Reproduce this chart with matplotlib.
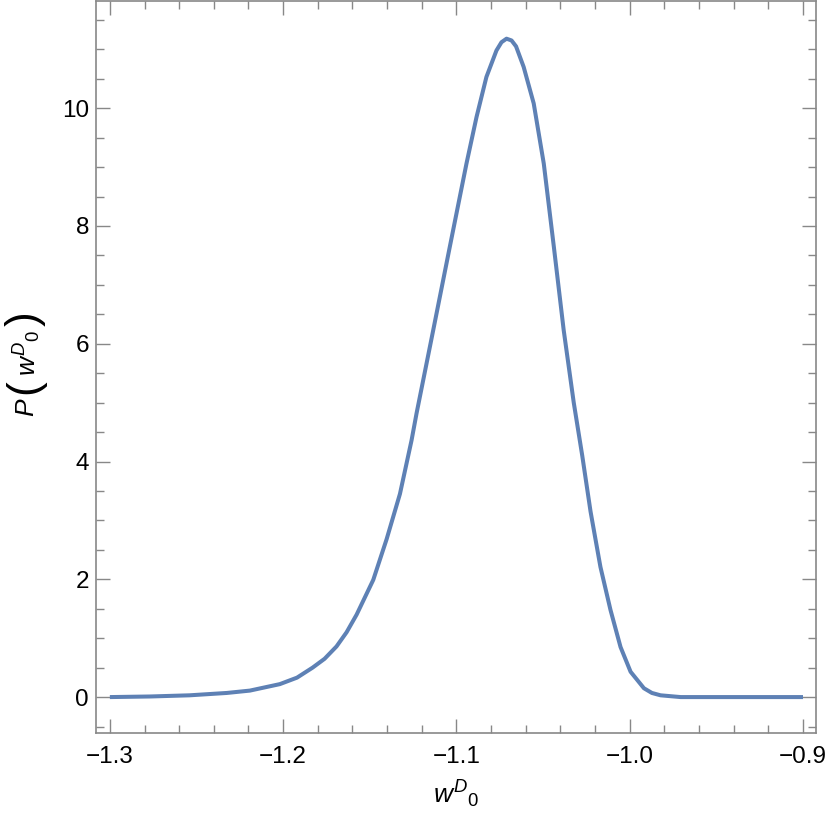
import matplotlib
matplotlib.use("Agg")
import matplotlib.pyplot as plt
from matplotlib.ticker import MultipleLocator

plt.rcParams['font.family'] = ['Liberation Sans', 'DejaVu Sans']
plt.rcParams['mathtext.fontset'] = 'custom'
plt.rcParams['mathtext.rm'] = 'Liberation Sans'
plt.rcParams['mathtext.it'] = 'Liberation Sans:italic'

# values
w_vals = [-1.3000, -1.2769, -1.2540, -1.2325, -1.2192, -1.2019, -1.1920, -1.1830,
          -1.1761, -1.1692, -1.1634, -1.1576, -1.1480, -1.1403, -1.1326, -1.1259,
          -1.1230, -1.1134, -1.1038, -1.0942, -1.0884, -1.0827, -1.0769, -1.0740,
          -1.0711, -1.0682, -1.0656, -1.0612, -1.0554, -1.0496, -1.0438, -1.0381,
          -1.0323, -1.0274, -1.0226, -1.0169, -1.0111, -1.0053, -0.9995, -0.9918,
          -0.9872, -0.9822, -0.9706, -0.9000]
p_vals = [0.00, 0.01, 0.03, 0.07, 0.11, 0.22, 0.33, 0.50,
          0.65, 0.86, 1.10, 1.40, 1.99, 2.68, 3.45, 4.36,
          4.82, 6.23, 7.65, 9.06, 9.85, 10.53, 10.98, 11.12,
          11.18, 11.15, 11.05, 10.70, 10.08, 9.06, 7.65, 6.23,
          5.00, 4.10, 3.15, 2.21, 1.48, 0.85, 0.43, 0.15,
          0.07, 0.03, 0.00, 0.00]

x_ticks = [-1.3, -1.2, -1.1, -1.0, -0.9]
x_labels = ['\u22121.3', '\u22121.2', '\u22121.1', '\u22121.0', '\u22120.9']
y_ticks = [0, 2, 4, 6, 8, 10]

fig = plt.figure(figsize=(8.3, 8.3), dpi=100)
ax = fig.add_axes([96/830, 97/830, 720/830, 732/830])

ax.plot(w_vals, p_vals, color='#5E81B5', lw=2.9, solid_capstyle='butt',
        solid_joinstyle='round')

ax.set_xlim(-1.308, -0.8925)
ax.set_ylim(-0.61, 11.82)
ax.set_xticks(x_ticks)
ax.set_xticklabels(x_labels)
ax.set_yticks(y_ticks)
ax.xaxis.set_minor_locator(MultipleLocator(0.02))
ax.yaxis.set_minor_locator(MultipleLocator(0.5))

gray = '#888888'
for s in ax.spines.values():
    s.set_color(gray)
    s.set_linewidth(1.2)
ax.tick_params(which='both', direction='in', top=True, right=True, color=gray,
               width=1.0, labelsize=17.5, labelcolor='black')
ax.tick_params(which='major', length=10)
ax.tick_params(axis='x', which='major', pad=9)
ax.tick_params(axis='y', which='major', pad=5)
ax.tick_params(which='minor', length=5.5)

ax.set_xlabel(r'$w^{D}{}_{0}$', fontsize=19, labelpad=8)

# y label built from pieces so the brackets can be tall, like the original
def px(x, y):
    return x / 830, 1 - y / 830

fig.text(*px(27, 407), r'$P$', fontsize=19, rotation=90, ha='center', va='center')
fig.text(*px(25, 387), '(', fontsize=32, rotation=90, ha='center', va='center')
fig.text(*px(27, 353), r'$w^{D}{}_{0}$', fontsize=19, rotation=90, ha='center', va='center')
fig.text(*px(25, 319), ')', fontsize=32, rotation=90, ha='center', va='center')

fig.savefig('out.png', dpi=100)
